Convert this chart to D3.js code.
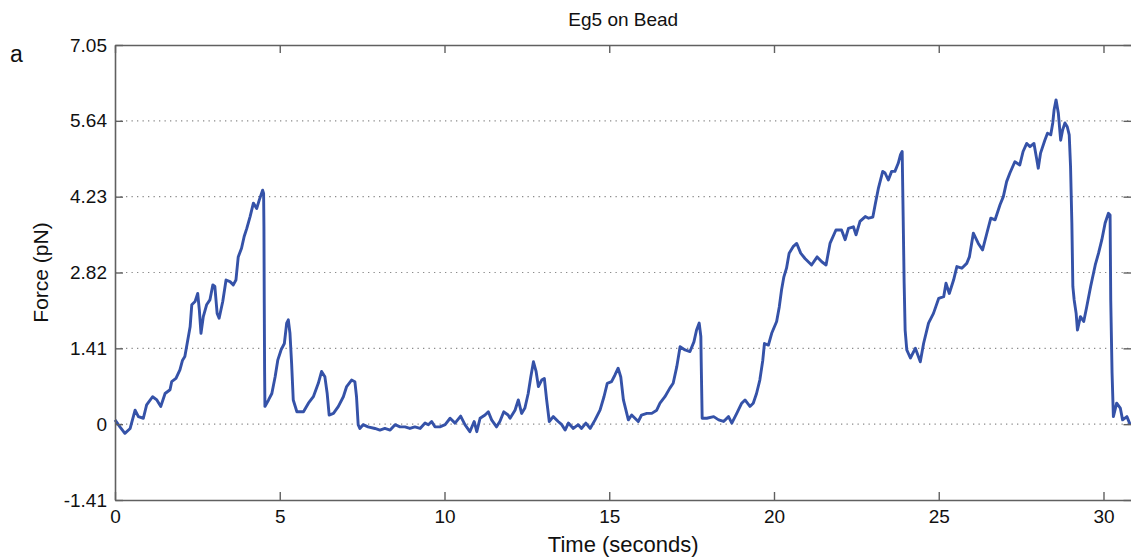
<!DOCTYPE html>
<html>
<head>
<meta charset="utf-8">
<script src="https://cdn.jsdelivr.net/npm/d3@7"></script>
<style>
  html, body { margin: 0; padding: 0; background: #fff; }
  svg { display: block; }
  text { font-family: "Liberation Sans", Arial, Helvetica, sans-serif; fill: #111; }
</style>
</head>
<body>
<svg id="chart" width="1131" height="557"></svg>
<script>
// Optical-trap force trace of Eg5 on a bead
const title = "Eg5 on Bead";
const panelLabel = "a";
const xLabel = "Time (seconds)";
const yLabel = "Force (pN)";

const xTicks = [0, 5, 10, 15, 20, 25, 30];
const yTicks = [-1.41, 0, 1.41, 2.82, 4.23, 5.64, 7.05];
const yTickLabels = ["-1.41", "0", "1.41", "2.82", "4.23", "5.64", "7.05"];
const xDomain = [0, 30.85];
const yDomain = [-1.41, 7.05];

// time (s)
const time = [
  0.00, 0.15, 0.30, 0.46, 0.61, 0.71, 0.86, 0.96, 1.14, 1.27, 1.39, 1.52, 1.67, 1.72, 1.85, 1.97,
  2.05, 2.12, 2.19, 2.28, 2.33, 2.43, 2.51, 2.56, 2.61, 2.68, 2.78, 2.88, 2.97, 3.03, 3.10, 3.16,
  3.27, 3.37, 3.49, 3.59, 3.67, 3.74, 3.84, 3.92, 4.00, 4.10, 4.20, 4.30, 4.38, 4.48, 4.51, 4.52,
  4.53, 4.54, 4.55, 4.66, 4.76, 4.86, 4.94, 5.04, 5.14, 5.21, 5.26, 5.31, 5.36, 5.41, 5.52, 5.72,
  5.87, 6.02, 6.17, 6.27, 6.37, 6.44, 6.50, 6.63, 6.78, 6.93, 7.03, 7.18, 7.28, 7.33, 7.38, 7.43,
  7.53, 7.68, 7.89, 8.04, 8.19, 8.35, 8.50, 8.65, 8.80, 8.95, 9.10, 9.26, 9.41, 9.51, 9.61, 9.71,
  9.86, 10.02, 10.17, 10.32, 10.49, 10.62, 10.77, 10.90, 10.98, 11.08, 11.23, 11.33, 11.43, 11.58, 11.68, 11.80,
  11.93, 11.99, 12.14, 12.24, 12.34, 12.44, 12.54, 12.62, 12.70, 12.78, 12.85, 12.95, 13.03, 13.10, 13.18, 13.30,
  13.45, 13.56, 13.66, 13.76, 13.91, 14.06, 14.16, 14.29, 14.42, 14.57, 14.72, 14.84, 14.94, 15.07, 15.17, 15.27,
  15.35, 15.43, 15.58, 15.68, 15.78, 15.88, 15.98, 16.14, 16.29, 16.44, 16.54, 16.69, 16.84, 16.94, 17.05, 17.15,
  17.30, 17.45, 17.57, 17.65, 17.73, 17.78, 17.79, 17.82, 17.96, 18.17, 18.32, 18.47, 18.62, 18.72, 18.87, 19.02,
  19.12, 19.27, 19.37, 19.47, 19.57, 19.66, 19.71, 19.83, 19.93, 20.08, 20.16, 20.23, 20.30, 20.38, 20.46, 20.58,
  20.69, 20.81, 20.94, 21.14, 21.31, 21.45, 21.58, 21.70, 21.88, 22.05, 22.16, 22.26, 22.41, 22.49, 22.61, 22.77,
  22.87, 23.00, 23.07, 23.17, 23.30, 23.37, 23.47, 23.57, 23.67, 23.77, 23.84, 23.89, 23.92, 23.95, 23.98, 24.03,
  24.14, 24.29, 24.44, 24.54, 24.69, 24.84, 25.00, 25.15, 25.22, 25.32, 25.45, 25.55, 25.70, 25.85, 25.93, 26.05,
  26.20, 26.33, 26.46, 26.58, 26.71, 26.86, 26.96, 27.06, 27.16, 27.31, 27.46, 27.56, 27.67, 27.77, 27.89, 27.97,
  28.02, 28.09, 28.22, 28.30, 28.40, 28.46, 28.50, 28.56, 28.63, 28.70, 28.76, 28.83, 28.90, 28.96, 29.00, 29.04,
  29.07, 29.11, 29.17, 29.21, 29.30, 29.40, 29.49, 29.61, 29.75, 29.85, 29.95, 30.05, 30.15, 30.20, 30.22, 30.26,
  30.30, 30.40, 30.51, 30.58, 30.71, 30.81
];

// force (pN)
const force = [
  0.08, -0.05, -0.17, -0.08, 0.26, 0.14, 0.11, 0.36, 0.51, 0.45, 0.33, 0.57, 0.64, 0.79, 0.85, 1.01,
  1.19, 1.26, 1.50, 1.81, 2.22, 2.28, 2.43, 2.12, 1.69, 2.00, 2.22, 2.31, 2.59, 2.56, 2.06, 1.97,
  2.28, 2.68, 2.65, 2.59, 2.68, 3.11, 3.27, 3.49, 3.64, 3.86, 4.11, 4.01, 4.17, 4.35, 4.29, 3.67,
  2.25, 1.01, 0.33, 0.45, 0.57, 0.88, 1.19, 1.38, 1.50, 1.88, 1.94, 1.69, 1.13, 0.45, 0.23, 0.23,
  0.39, 0.51, 0.76, 0.98, 0.88, 0.57, 0.17, 0.20, 0.33, 0.51, 0.70, 0.82, 0.79, 0.51, -0.01, -0.08,
  -0.01, -0.05, -0.08, -0.11, -0.08, -0.11, -0.01, -0.05, -0.05, -0.08, -0.05, -0.08, 0.02, -0.01, 0.05, -0.05,
  -0.05, -0.01, 0.11, 0.02, 0.15, -0.01, -0.14, 0.05, -0.14, 0.11, 0.17, 0.23, 0.08, -0.05, 0.05, 0.23,
  0.17, 0.11, 0.26, 0.45, 0.20, 0.30, 0.57, 0.88, 1.16, 0.98, 0.70, 0.82, 0.85, 0.45, 0.05, 0.14,
  0.05, -0.01, -0.11, 0.02, -0.08, -0.01, -0.08, 0.02, -0.08, 0.08, 0.26, 0.51, 0.76, 0.79, 0.91, 1.04,
  0.88, 0.45, 0.08, 0.17, 0.11, 0.05, 0.17, 0.20, 0.20, 0.26, 0.39, 0.51, 0.67, 0.76, 1.07, 1.44,
  1.38, 1.35, 1.53, 1.75, 1.88, 1.63, 1.19, 0.11, 0.11, 0.14, 0.08, 0.05, 0.14, 0.02, 0.20, 0.39,
  0.45, 0.33, 0.39, 0.57, 0.82, 1.19, 1.50, 1.47, 1.69, 1.91, 2.18, 2.50, 2.74, 2.90, 3.18, 3.30,
  3.36, 3.18, 3.08, 2.96, 3.11, 3.02, 2.96, 3.36, 3.61, 3.61, 3.43, 3.64, 3.67, 3.52, 3.77, 3.86,
  3.83, 3.85, 4.08, 4.39, 4.70, 4.67, 4.54, 4.70, 4.70, 4.85, 5.01, 5.07, 3.86, 2.62, 1.75, 1.38,
  1.23, 1.41, 1.16, 1.50, 1.88, 2.06, 2.34, 2.37, 2.62, 2.43, 2.68, 2.93, 2.90, 2.99, 3.11, 3.55,
  3.36, 3.24, 3.55, 3.83, 3.80, 4.08, 4.23, 4.51, 4.67, 4.88, 4.82, 5.07, 5.22, 5.16, 5.22, 4.94,
  4.76, 5.04, 5.28, 5.41, 5.38, 5.60, 5.84, 6.03, 5.78, 5.28, 5.47, 5.60, 5.53, 5.38, 4.79, 3.74,
  2.56, 2.31, 2.06, 1.75, 2.00, 1.91, 2.18, 2.56, 2.96, 3.18, 3.43, 3.74, 3.92, 3.89, 2.31, 0.95,
  0.14, 0.39, 0.30, 0.08, 0.14, -0.01
];

const series = time.map((t, i) => ({ t, f: force[i] }));

const plot = { left: 115, right: 1131.5, top: 45, bottom: 500 };

const svg = d3.select("#chart");

const x = d3.scaleLinear().domain(xDomain).range([plot.left, plot.right]);
const y = d3.scaleLinear().domain(yDomain).range([plot.bottom, plot.top]);

// dotted horizontal grid at the inner y ticks
svg.append("g")
  .selectAll("line")
  .data(yTicks.filter(v => v > yDomain[0] && v < yDomain[1]))
  .join("line")
  .attr("x1", plot.left).attr("x2", plot.right)
  .attr("y1", d => y(d)).attr("y2", d => y(d))
  .attr("stroke", "#8a8a8a")
  .attr("stroke-width", 1.2)
  .attr("stroke-dasharray", "1.3,4.2");

// force trace
const line = d3.line().x(d => x(d.t)).y(d => y(d.f));
svg.append("path")
  .datum(series)
  .attr("d", line)
  .attr("fill", "none")
  .attr("stroke", "#3552a8")
  .attr("stroke-width", 2.9)
  .attr("stroke-linejoin", "round");

// axes box with inward ticks
const axisColor = "#606060";
const tickLen = 8;

const bottomAxis = d3.axisBottom(x).tickValues(xTicks).tickSize(-tickLen).tickSizeOuter(0).tickPadding(10);
const gx = svg.append("g").attr("transform", `translate(0,${plot.bottom})`).call(bottomAxis);
gx.select(".domain").attr("stroke", axisColor).attr("stroke-width", 1.6);
gx.selectAll(".tick line").attr("stroke", axisColor).attr("stroke-width", 1.4);
gx.selectAll(".tick text").attr("font-size", 19).attr("fill", "#111")
  .attr("font-family", "Liberation Sans, Arial, sans-serif");

const topAxis = d3.axisTop(x).tickValues(xTicks).tickSize(-tickLen).tickSizeOuter(0).tickFormat("");
const gxt = svg.append("g").attr("transform", `translate(0,${plot.top})`).call(topAxis);
gxt.select(".domain").attr("stroke", axisColor).attr("stroke-width", 1.6);
gxt.selectAll(".tick line").attr("stroke", axisColor).attr("stroke-width", 1.4);

const leftAxis = d3.axisLeft(y).tickValues(yTicks).tickSize(-tickLen).tickSizeOuter(0).tickPadding(8)
  .tickFormat((d, i) => yTickLabels[i]);
const gy = svg.append("g").attr("transform", `translate(${plot.left},0)`).call(leftAxis);
gy.select(".domain").attr("stroke", axisColor).attr("stroke-width", 1.6);
gy.selectAll(".tick line").attr("stroke", axisColor).attr("stroke-width", 1.4);
gy.selectAll(".tick text").attr("font-size", 19).attr("fill", "#111")
  .attr("font-family", "Liberation Sans, Arial, sans-serif");

const rightAxis = d3.axisRight(y).tickValues(yTicks).tickSize(-tickLen).tickSizeOuter(0).tickFormat("");
const gyr = svg.append("g").attr("transform", `translate(${plot.right},0)`).call(rightAxis);
gyr.select(".domain").attr("stroke", axisColor).attr("stroke-width", 1.6);
gyr.selectAll(".tick line").attr("stroke", axisColor).attr("stroke-width", 1.4);

// titles and labels
svg.append("text")
  .attr("x", (plot.left + plot.right) / 2).attr("y", 26)
  .attr("text-anchor", "middle").attr("font-size", 19)
  .text(title);

svg.append("text")
  .attr("x", 10).attr("y", 62)
  .attr("font-size", 23)
  .text(panelLabel);

svg.append("text")
  .attr("x", (plot.left + plot.right) / 2).attr("y", 552)
  .attr("text-anchor", "middle").attr("font-size", 22)
  .text(xLabel);

svg.append("text")
  .attr("transform", `translate(48,${(plot.top + plot.bottom) / 2}) rotate(-90)`)
  .attr("text-anchor", "middle").attr("font-size", 21)
  .text(yLabel);
</script>
</body>
</html>
